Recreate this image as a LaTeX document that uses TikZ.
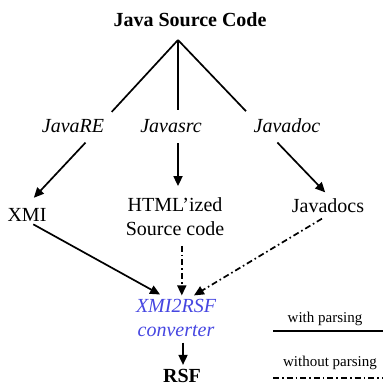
\documentclass[tikz,border=0pt]{standalone}
\usepackage{fontspec}
\setmainfont{Liberation Serif}
\usepackage{tikz}
\usetikzlibrary{arrows.meta,calc,positioning}
\definecolor{convblue}{RGB}{70,70,225}

\tikzset{
  big/.style={font=\fontsize{20}{24}\selectfont, inner sep=2pt},
  tool/.style={big, font=\fontsize{20}{24}\selectfont\itshape},
  small/.style={font=\fontsize{15}{18}\selectfont, inner sep=2pt},
  noparse/.style={dash pattern=on 6pt off 3pt on 1.6pt off 3pt}
}

\begin{document}
\begin{tikzpicture}[x=1pt, y=-1pt, line width=1.7pt, >={Triangle[length=10pt,width=9pt]}]
   \useasboundingbox (0,0) rectangle (383,387);
   % sources and tools
   \node (src) [big, anchor=base] at (190,27) {\textbf{Java Source Code}};
   \coordinate (apex) at (178,40);
   \node (jre) [tool, anchor=base] at (73,133) {JavaRE};
   \node (jsrc) [tool, anchor=base] at (171,133) {Javasrc};
   \node (jdoc) [tool, anchor=base] at (287,133) {Javadoc};
   % outputs
   \node (xmi) [big, anchor=base] at (27,221) {XMI};
   \node (html) [big, align=center] at (175,217) {HTML'ized\\Source code};
   \node (jdocs) [big, anchor=base] at (328,212) {Javadocs};
   \node (conv) [tool, align=center, text=convblue] at (176,318) {XMI2RSF\\converter};
   \node (rsf) [big, anchor=base] at (182,382) {\textbf{RSF}};
   % legend
   \node (wp) [small, anchor=base] at (325,322) {with parsing};
   \node (wop) [small, anchor=base] at (330,366) {without parsing};
   \coordinate (wpa) at (273,331);
   \coordinate (wpb) at (383,331);
   \coordinate (wopa) at (273,378);
   \coordinate (wopb) at (383,378);

   \begin{scope}[shorten >=7pt]
    \draw (apex) -- (jre.north east);
    \draw (apex) -- (apex |- jsrc.north);
    \draw (apex) -- (jdoc.north west);
   \end{scope}
   \draw[->, shorten <=9pt, shorten >=10pt] (jre.-27) -- (xmi.north);
   \draw[->, shorten <=7pt, shorten >=9pt] (apex |- jsrc.south) -- (apex |- html.north);
   \draw[->, shorten <=9pt, shorten >=4pt] (jdoc.-148) -- (jdocs.north);
   \draw[->, shorten <=1pt, shorten >=4pt] (xmi.-60) -- (conv.120);
   \draw[->, noparse, shorten <=7pt, shorten >=1pt] (conv.75 |- html.south) -- (conv.75);
   \draw[->, noparse, shorten <=7pt, shorten >=2pt] (jdocs.south) -- (conv.53);
   \draw[->, shorten <=3pt, shorten >=1pt] (conv.-72) -- (conv.-72 |- rsf.north);
   \draw (wpa) -- (wpb);
   \draw[noparse] (wopa) -- (wopb);
\end{tikzpicture}
\end{document}
